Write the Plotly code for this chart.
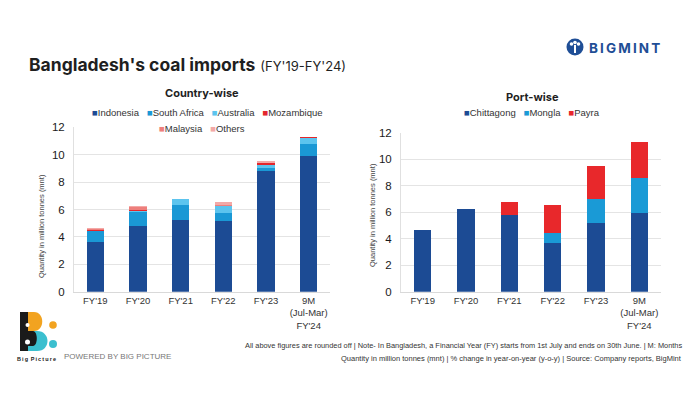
import plotly.graph_objects as go

# ---------------- data ----------------
categories = ["FY'19", "FY'20", "FY'21", "FY'22", "FY'23", "9M<br>(Jul-Mar)<br>FY'24"]

country_names = ["Indonesia", "South Africa", "Australia", "Mozambique", "Malaysia", "Others"]
indonesia = [3.60, 4.82, 5.20, 5.18, 8.84, 9.93]
south_africa = [0.80, 1.02, 1.13, 0.59, 0.22, 0.83]
australia = [0.04, 0.04, 0.42, 0.51, 0.22, 0.44]
mozambique = [0.07, 0.12, 0.00, 0.00, 0.09, 0.10]
malaysia = [0.09, 0.20, 0.00, 0.05, 0.06, 0.00]
others = [0.05, 0.06, 0.02, 0.22, 0.08, 0.02]
country_values = [indonesia, south_africa, australia, mozambique, malaysia, others]
country_colors = ["#1c4b94", "#1a98d5", "#5cc4ee", "#e3262b", "#ee7f7c", "#f3a9a7"]

port_names = ["Chittagong", "Mongla", "Payra"]
chittagong = [4.65, 6.26, 5.76, 3.70, 5.21, 5.94]
mongla = [0.00, 0.00, 0.00, 0.70, 1.78, 2.66]
payra = [0.00, 0.00, 1.01, 2.14, 2.49, 2.70]
port_values = [chittagong, mongla, payra]
port_colors = ["#1c4b94", "#1a9ad6", "#e8282b"]

y_ticks = [0, 2, 4, 6, 8, 10, 12]

# ---------------- helpers ----------------
W, H = 700, 400
def px(x):
    return x / W
def py(y):
    return 1 - y / H

FONT = "Liberation Sans, Arial, sans-serif"
TITLE_FONT = "Inter, Roboto, sans-serif"

fig = go.Figure()

for name, vals, col in zip(country_names, country_values, country_colors):
    fig.add_trace(go.Bar(x=categories, y=vals, name=name, marker=dict(color=col, line=dict(width=0)),
                         xaxis="x", yaxis="y", showlegend=False))

for name, vals, col in zip(port_names, port_values, port_colors):
    fig.add_trace(go.Bar(x=categories, y=vals, name=name, marker=dict(color=col, line=dict(width=0)),
                         xaxis="x2", yaxis="y2", showlegend=False))

axis_x = dict(showline=True, linecolor="#d9d9d9", linewidth=1, ticks="", showgrid=False, automargin=False,
              tickfont=dict(family=FONT, size=9.5, color="#333"), fixedrange=True)
axis_y = dict(range=[0, 12], tickvals=y_ticks, showgrid=True, gridcolor="#e4e4e4", gridwidth=1,
              showline=True, linecolor="#e0e0e0", linewidth=1, zeroline=False, ticks="", automargin=False,
              tickfont=dict(family=FONT, size=11.5, color="#1a1a1a"), ticklabelstandoff=6, fixedrange=True)

fig.update_layout(
    width=W, height=H,
    margin=dict(l=0, r=0, t=0, b=0, autoexpand=False),
    paper_bgcolor="white", plot_bgcolor="white",
    barmode="stack", bargap=0.6,
    showlegend=False, hovermode=False,
    xaxis=dict(domain=[px(74), px(330)], anchor="y", **axis_x),
    yaxis=dict(domain=[py(291.7), py(127.3)], anchor="x", **axis_y),
    xaxis2=dict(domain=[px(401), px(661)], anchor="y2", **axis_x),
    yaxis2=dict(domain=[py(291.7), py(132.7)], anchor="x2", **axis_y),
)

ann = []
# main title
ann.append(dict(x=px(27), y=py(64), xref="paper", yref="paper", xanchor="left", yanchor="middle",
                showarrow=False,
                text="<b>Bangladesh's coal imports</b> <span style='font-size:13px;font-weight:normal'>(FY'19-FY'24)</span>",
                font=dict(family=TITLE_FONT, size=17.5, color="#1f1f1f")))
# subplot titles
ann.append(dict(x=px(202), y=py(93), xref="paper", yref="paper", xanchor="center", yanchor="middle",
                showarrow=False, text="<b>Country-wise</b>", font=dict(family=TITLE_FONT, size=11, color="#1f1f1f")))
ann.append(dict(x=px(532), y=py(97), xref="paper", yref="paper", xanchor="center", yanchor="middle",
                showarrow=False, text="<b>Port-wise</b>", font=dict(family=TITLE_FONT, size=11, color="#1f1f1f")))

# legends
def legend_text(names, colors):
    sp = "\u00a0\u00a0\u00a0"
    return sp.join(f"<span style='color:{c}'>■</span>{n}" for n, c in zip(names, colors))

ann.append(dict(x=px(207), y=py(113), xref="paper", yref="paper", xanchor="center", yanchor="middle",
                showarrow=False, text=legend_text(country_names[:4], country_colors[:4]),
                font=dict(family=FONT, size=9.5, color="#333")))
ann.append(dict(x=px(202), y=py(128), xref="paper", yref="paper", xanchor="center", yanchor="middle",
                showarrow=False, text=legend_text(country_names[4:], country_colors[4:]),
                font=dict(family=FONT, size=9.5, color="#333")))
ann.append(dict(x=px(532), y=py(113), xref="paper", yref="paper", xanchor="center", yanchor="middle",
                showarrow=False, text=legend_text(port_names, port_colors),
                font=dict(family=FONT, size=9.5, color="#333")))

# y-axis titles
ytitle = "Quantity in million tonnes (mnt)"
ann.append(dict(x=px(42), y=py(226), xref="paper", yref="paper", xanchor="center", yanchor="middle",
                showarrow=False, textangle=-90, text=ytitle, font=dict(family=FONT, size=7.5, color="#444")))
ann.append(dict(x=px(372), y=py(215), xref="paper", yref="paper", xanchor="center", yanchor="middle",
                showarrow=False, textangle=-90, text=ytitle, font=dict(family=FONT, size=7.5, color="#444")))

# footnotes
ann.append(dict(x=px(684), y=py(345), xref="paper", yref="paper", xanchor="right", yanchor="middle",
                showarrow=False,
                text="All above figures are rounded off | Note- In Bangladesh, a Financial Year (FY) starts from 1st July and ends on 30th June. | M: Months",
                font=dict(family=FONT, size=7.4, color="#333")))
ann.append(dict(x=px(684), y=py(358), xref="paper", yref="paper", xanchor="right", yanchor="middle",
                showarrow=False,
                text="Quantity in million tonnes (mnt) | % change in year-on-year (y-o-y) | Source: Company reports, BigMint",
                font=dict(family=FONT, size=7.5, color="#333")))

# BIGMINT logo text
ann.append(dict(x=px(587), y=py(48), xref="paper", yref="paper", xanchor="left", yanchor="middle",
                showarrow=False, text="<b>B\u2009I\u2009G\u2009M\u2009I\u2009N\u2009T</b>",
                font=dict(family=TITLE_FONT, size=13.5, color="#1f4e96")))
# Big Picture text
ann.append(dict(x=px(15), y=py(359), xref="paper", yref="paper", xanchor="left", yanchor="middle",
                showarrow=False, text="<b>B\u2009i\u2009g\u2009 P\u2009i\u2009c\u2009t\u2009u\u2009r\u2009e</b>",
                font=dict(family=FONT, size=5.5, color="#222")))
ann.append(dict(x=px(62), y=py(356), xref="paper", yref="paper", xanchor="left", yanchor="middle",
                showarrow=False, text="POWERED BY BIG PICTURE",
                font=dict(family=FONT, size=8, color="#777")))

fig.update_layout(annotations=ann)

# ---- logo shapes ----
shapes = []
def circ(cx, cy, r, color):
    return dict(type="circle", xref="paper", yref="paper", x0=px(cx - r), x1=px(cx + r),
                y0=py(cy + r), y1=py(cy - r), fillcolor=color, line=dict(width=0))

# BIGMINT icon
shapes.append(circ(575, 47, 8.5, "#1f4e96"))
shapes.append(circ(571.5, 44, 1.8, "white"))
shapes.append(circ(575, 42.5, 1.8, "white"))
shapes.append(circ(578.5, 44, 1.8, "white"))
shapes.append(dict(type="rect", xref="paper", yref="paper", x0=px(574), x1=px(576), y0=py(53), y1=py(45),
                   fillcolor="white", line=dict(width=0)))

# Big Picture "B" logo
def P(x, y):
    return f"{px(x):.5f},{py(y):.5f}"
shapes.append(dict(type="path", xref="paper", yref="paper",
                   path=f"M{P(27,312)} L{P(34,312)} C{P(45,312)} {P(45,331)} {P(34,331)} L{P(27,331)} Z",
                   fillcolor="#f2a320", line=dict(width=0)))
shapes.append(dict(type="path", xref="paper", yref="paper",
                   path=f"M{P(27,331)} L{P(37,331)} C{P(51,331)} {P(51,351)} {P(37,351)} L{P(27,351)} Z",
                   fillcolor="#3bbfcf", line=dict(width=0)))
shapes.append(dict(type="rect", xref="paper", yref="paper", x0=px(20), x1=px(28), y0=py(351), y1=py(312),
                   fillcolor="#1a1a1a", line=dict(width=0)))
shapes.append(dict(type="path", xref="paper", yref="paper",
                   path=f"M{P(28,331)} L{P(33,331)} C{P(38,331)} {P(38,346)} {P(33,346)} L{P(28,346)} Z",
                   fillcolor="#1a1a1a", line=dict(width=0)))
shapes.append(circ(27.5, 325, 2.0, "white"))
shapes.append(circ(27.5, 342, 2.5, "white"))
shapes.append(circ(53, 325, 3.8, "#f2a320"))
shapes.append(circ(53, 344, 4.0, "#3bbfcf"))

fig.update_layout(shapes=shapes)

fig.write_html("out.html", config={"displayModeBar": False, "staticPlot": True},
               post_script="document.body.style.margin='0';")
